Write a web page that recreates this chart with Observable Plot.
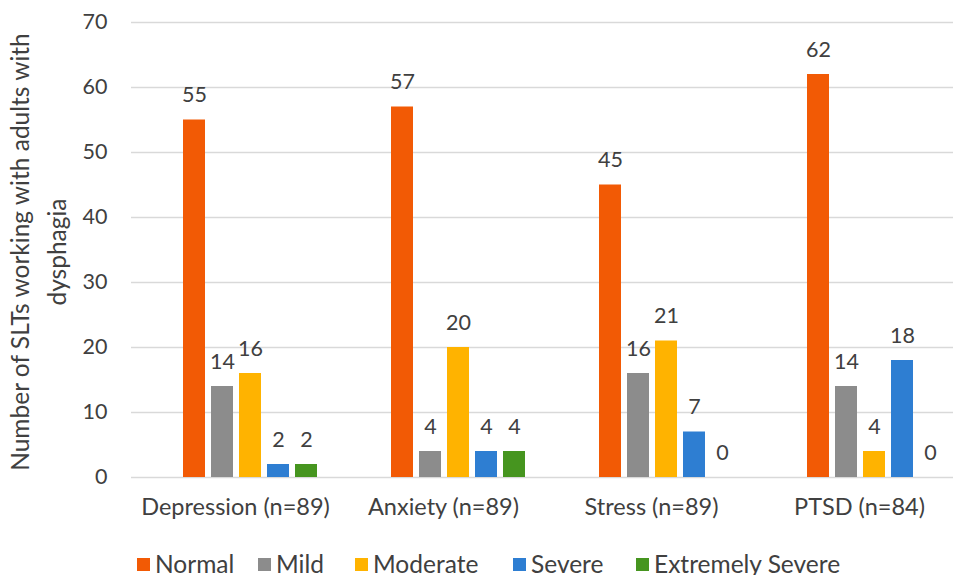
<!DOCTYPE html>
<html>
<head>
<meta charset="utf-8">
<script src="https://cdn.jsdelivr.net/npm/d3@7"></script>
<script src="https://cdn.jsdelivr.net/npm/@observablehq/plot@0.6"></script>
<style>
  body { margin: 0; background: #fff; font-family: Lato, "Open Sans", sans-serif; }
  #wrap { position: relative; width: 953px; height: 575px; overflow: hidden; background: #fff; }
  #chart { position: absolute; left: 0; top: 0; }
  #ytitle {
    position: absolute; left: 0; top: 0; width: 500px; text-align: center;
    font-size: 24.5px; line-height: 37px; color: #404040;
    transform-origin: top left; transform: translate(1px, 502px) rotate(-90deg);
    white-space: nowrap;
  }
  #legend {
    position: absolute; left: 0; top: 549px; width: 953px; height: 30px;
    font-size: 24.5px; color: #404040; line-height: 30px; white-space: nowrap;
  }
  #legend .item { position: absolute; top: 0; display: flex; align-items: center; gap: 5px; }
  #legend .sw { width: 13px; height: 13px; display: inline-block; }
</style>
</head>
<body>
<div id="wrap">
  <div id="chart"></div>
  <div id="ytitle">Number of SLTs working with adults with<br>dysphagia</div>
  <div id="legend"></div>
</div>
<script>
const categories = ["Depression (n=89)", "Anxiety (n=89)", "Stress (n=89)", "PTSD (n=84)"];
const series = ["Normal", "Mild", "Moderate", "Severe", "Extremely Severe"];
const normal = [55, 57, 45, 62];
const mild = [14, 4, 16, 14];
const moderate = [16, 20, 21, 4];
const severe = [2, 4, 7, 18];
const extremelySevere = [2, 4, 0, 0];
const colors = ["#F25A05", "#8C8C8C", "#FFB300", "#2E7ED2", "#46951F"];
const yTicks = [0, 10, 20, 30, 40, 50, 60, 70];

const seriesValues = [normal, mild, moderate, severe, extremelySevere];
const data = [];
categories.forEach((c, i) => {
  series.forEach((s, j) => {
    data.push({category: c, series: s, value: seriesValues[j][i]});
  });
});

const chart = Plot.plot({
  width: 953,
  height: 545,
  marginLeft: 131,
  marginRight: -10,
  marginTop: 22,
  marginBottom: 68,
  fx: {domain: categories, range: [131, 963], padding: 0, label: null},
  x: {domain: series, range: [179.75, 319.75], paddingInner: 0.232, paddingOuter: 0.116, axis: null},
  y: {domain: [0, 70], range: [477, 22]},
  color: {domain: series, range: colors},
  style: {fontFamily: "Lato, 'Open Sans', sans-serif", fontSize: "21px", color: "#404040", background: "#fff"},
  marks: [
    Plot.gridY(yTicks, {stroke: "#d9d9d9", strokeOpacity: 1, strokeWidth: 1.5}),
    Plot.barY(data, {fx: "category", x: "series", y: "value", fill: "series"}),
    Plot.text(data, {fx: "category", x: "series", y: "value", text: d => String(d.value),
      dy: -18, lineAnchor: "bottom", fill: "#404040", fontSize: 21.5}),
    Plot.axisY(yTicks, {tickSize: 0, tickPadding: 24, label: null, fontSize: 21.5, fill: "#404040"}),
    Plot.axisFx({anchor: "bottom", tickSize: 0, tickPadding: 21, label: null, fontSize: 23.5, fill: "#404040"})
  ]
});
document.getElementById("chart").appendChild(chart);

// legend layout: left edge of each swatch
const legendLefts = [137, 258, 355, 513, 636];
const legend = document.getElementById("legend");
series.forEach((s, j) => {
  const item = document.createElement("div");
  item.className = "item";
  item.style.left = legendLefts[j] + "px";
  const sw = document.createElement("span");
  sw.className = "sw";
  sw.style.background = colors[j];
  const label = document.createElement("span");
  label.textContent = s;
  item.appendChild(sw);
  item.appendChild(label);
  legend.appendChild(item);
});
</script>
</body>
</html>
